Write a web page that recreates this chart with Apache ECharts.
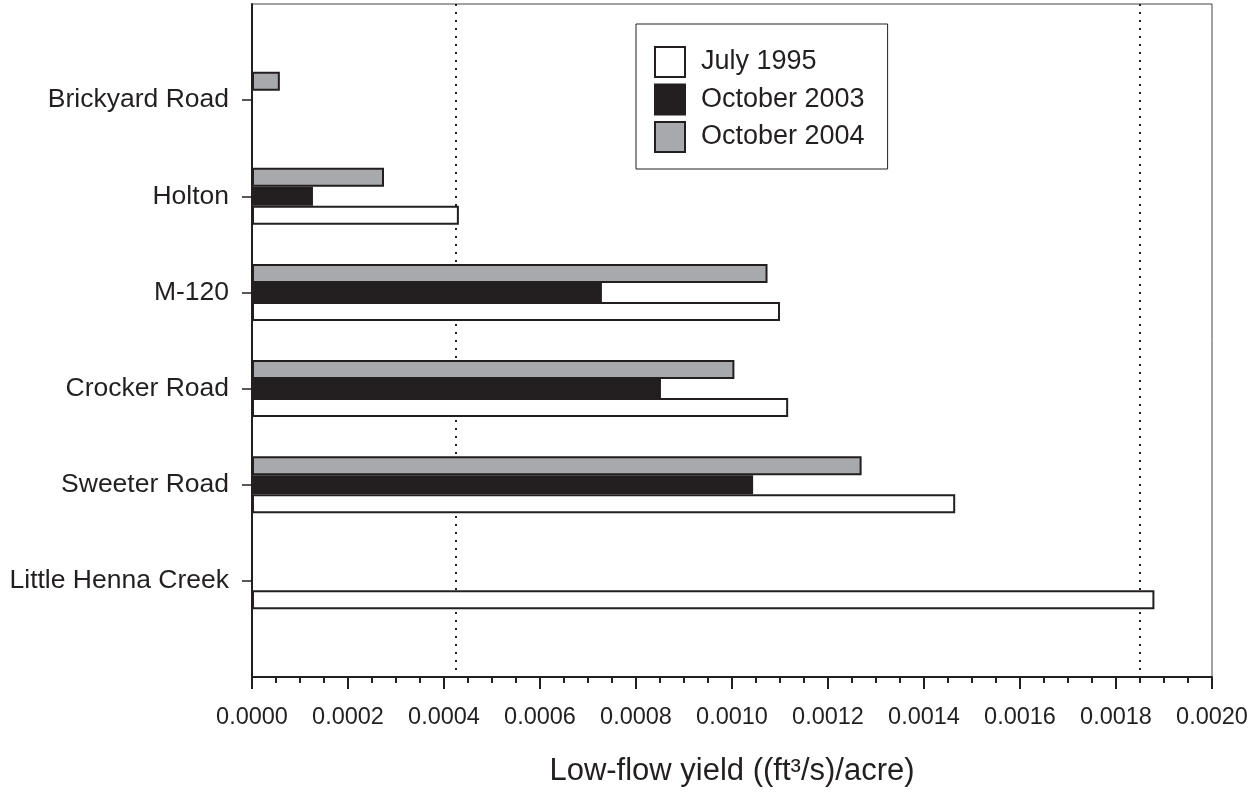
<!DOCTYPE html>
<html>
<head>
<meta charset="utf-8">
<script src="https://cdn.jsdelivr.net/npm/echarts@6/dist/echarts.min.js"></script>
<style>
  html, body { margin: 0; padding: 0; background: #fff; }
  #main { width: 1259px; height: 792px; }
</style>
</head>
<body>
<div id="main"></div>
<script>
// sites, top to bottom (empty slots pad the ends of the axis)
const sites = ['', 'Brickyard Road', 'Holton', 'M-120', 'Crocker Road', 'Sweeter Road', 'Little Henna Creek', ''];

// low-flow yield, (ft3/s)/acre
const july1995 = [null, null, 0.000431, 0.0011, 0.001117, 0.001465, 0.00188, null];
const oct2003 = [null, null, 0.000127, 0.000729, 0.000852, 0.001044, null, null];
const oct2004 = [null, 0.000058, 0.000275, 0.001074, 0.001005, 0.001270, null, null];

// dotted reference lines
const refLines = [0.000425, 0.00185];

const FONT = '"Liberation Sans", Arial, sans-serif';
const INK = '#231f20';

const chart = echarts.init(document.getElementById('main'));

function barSeries(name, data, color) {
  return {
    name: name,
    type: 'bar',
    data: data,
    barWidth: 19,
    barGap: '0%',
    itemStyle: { color: color, borderColor: INK, borderWidth: 2 },
    animation: false
  };
}

const series = [
  barSeries('October 2004', oct2004, '#a7a9ac'),
  barSeries('October 2003', oct2003, INK),
  barSeries('July 1995', july1995, '#ffffff')
];

// each dotted line runs from the top slot to the bottom slot of the y axis
refLines.forEach(v => {
  series.push({
    type: 'line',
    data: [[v, 0], [v, sites.length - 1]],
    symbol: 'none',
    silent: true,
    lineStyle: { color: INK, type: [2, 6], width: 2 },
    z: 1,
    animation: false
  });
});

chart.setOption({
  backgroundColor: '#fff',
  animation: false,
  grid: {
    left: 252, top: 4, right: 47, bottom: 115,
    outerBoundsMode: 'none',
    containLabel: false,
    show: true, borderColor: '#444', borderWidth: 1
  },
  legend: {
    data: ['July 1995', 'October 2003', 'October 2004'],
    orient: 'vertical',
    left: 636, top: 24,
    padding: [22, 23, 16, 18],
    icon: 'rect',
    itemWidth: 30, itemHeight: 30, itemGap: 5.5,
    borderColor: INK, borderWidth: 1,
    itemStyle: { borderColor: INK, borderWidth: 2 },
    textStyle: { fontFamily: FONT, fontSize: 27, color: INK, padding: [0, 0, 0, 11] },
    selectedMode: false
  },
  xAxis: {
    type: 'value',
    min: 0, max: 0.002, interval: 0.0002,
    name: 'Low-flow yield ((ft³/s)/acre)',
    nameLocation: 'middle',
    nameGap: 79,
    nameMoveOverlap: false,
    nameTextStyle: { fontFamily: FONT, fontSize: 31, color: INK },
    axisLine: { show: true, lineStyle: { color: INK, width: 2 } },
    axisTick: { show: true, length: 12, lineStyle: { color: INK, width: 2 } },
    minorTick: { show: true, splitNumber: 4, length: 6, lineStyle: { color: INK, width: 2 } },
    splitLine: { show: false },
    axisLabel: {
      margin: 29,
      fontFamily: FONT, fontSize: 23.5, color: INK,
      formatter: v => v.toFixed(4)
    }
  },
  yAxis: {
    type: 'category',
    data: sites,
    inverse: true,
    boundaryGap: false,
    axisLine: { show: true, lineStyle: { color: INK, width: 2 } },
    axisTick: {
      show: true, length: 10,
      interval: (i, v) => v !== '',
      lineStyle: { color: INK, width: 1.5 }
    },
    axisLabel: { margin: 23, interval: 0, fontFamily: FONT, fontSize: 26.5, color: INK },
    splitLine: { show: false }
  },
  series: series
});
</script>
</body>
</html>
